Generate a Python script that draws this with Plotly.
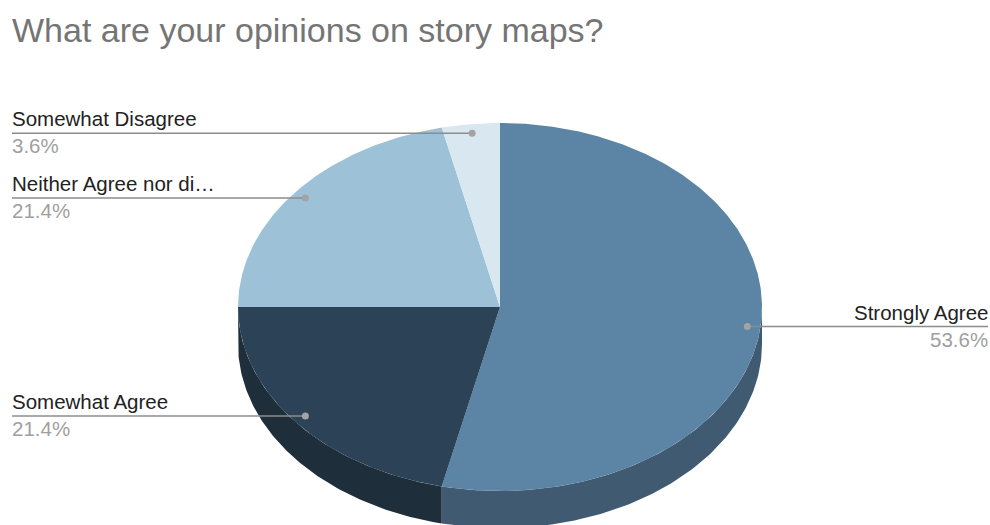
import numpy as np
import plotly.graph_objects as go

# Survey responses: "What are your opinions on story maps?"
labels = ["Strongly Agree", "Somewhat Agree", "Neither Agree nor disagree", "Somewhat Disagree"]
short_labels = ["Strongly Agree", "Somewhat Agree", "Neither Agree nor di\u2026", "Somewhat Disagree"]
counts = [15, 6, 6, 1]

top_colors = ["#5b84a5", "#2c4257", "#9dc2d8", "#d9e8f0"]
side_colors = ["#405a72", "#1f2e3b", "#6e8898", "#98a2a8"]

W, H = 990, 525
CX, CY, RX, RY, DEPTH = 500, 307, 262, 184, 37
FONT = "Arial, Liberation Sans, Helvetica, sans-serif"


def ellipse(theta_deg, r=1.0, dy=0.0):
    t = np.radians(theta_deg)
    return CX + r * RX * np.sin(t), CY - r * RY * np.cos(t) + dy


total = float(sum(counts))
shares = [c / total for c in counts]
ends = np.cumsum([s * 360 for s in shares])
starts = np.concatenate([[0.0], ends[:-1]])

fig = go.Figure()

# side walls of the tilted pie (only the front half, 90..270 degrees, is visible)
for a0, a1, col in zip(starts, ends, side_colors):
    s0, s1 = max(a0, 90.0), min(a1, 270.0)
    if s1 <= s0:
        continue
    th = np.linspace(s0, s1, 120)
    tx, ty = ellipse(th)
    bx, by = ellipse(th[::-1], dy=DEPTH)
    fig.add_trace(go.Scatter(
        x=np.concatenate([tx, bx]), y=np.concatenate([ty, by]),
        fill="toself", fillcolor=col, mode="lines", line=dict(width=0),
        hoverinfo="skip", showlegend=False))

# top faces
for a0, a1, col in zip(starts, ends, top_colors):
    th = np.linspace(a0, a1, max(int((a1 - a0) * 2), 8))
    ax, ay = ellipse(th)
    fig.add_trace(go.Scatter(
        x=np.concatenate([[CX], ax, [CX]]), y=np.concatenate([[CY], ay, [CY]]),
        fill="toself", fillcolor=col, mode="lines", line=dict(width=0),
        hoverinfo="skip", showlegend=False))

# leader lines, anchor dots and labels
for a0, a1, name, share in zip(starts, ends, short_labels, shares):
    mid = (a0 + a1) / 2
    dx, dy = ellipse(mid, r=0.95)
    left = dx < CX
    x_end = 12 if left else 988
    fig.add_trace(go.Scatter(
        x=[x_end, dx], y=[dy, dy], mode="lines",
        line=dict(color="#8c8c8c", width=1.5),
        hoverinfo="skip", showlegend=False))
    fig.add_trace(go.Scatter(
        x=[dx], y=[dy], mode="markers",
        marker=dict(color="#a3a3a3", size=7),
        hoverinfo="skip", showlegend=False))
    anchor = "left" if left else "right"
    tx = x_end - 2 if left else x_end + 2
    fig.add_annotation(x=tx, y=dy, xref="x", yref="y", text=name,
                       showarrow=False, xanchor=anchor, yanchor="bottom", yshift=1,
                       font=dict(family=FONT, size=20.5, color="#222222"))
    fig.add_annotation(x=tx, y=dy, xref="x", yref="y", text=f"{share * 100:.1f}%",
                       showarrow=False, xanchor=anchor, yanchor="top", yshift=1,
                       font=dict(family=FONT, size=20.5, color="#a0a0a0"))

fig.add_annotation(x=10, y=30, xref="x", yref="y", text="What are your opinions on story maps?",
                   showarrow=False, xanchor="left", yanchor="middle",
                   font=dict(family=FONT, size=34, color="#757575"))

fig.update_layout(
    width=W, height=H, margin=dict(l=0, r=0, t=0, b=0),
    paper_bgcolor="white", plot_bgcolor="white",
    xaxis=dict(range=[0, W], visible=False, fixedrange=True),
    yaxis=dict(range=[H, 0], visible=False, fixedrange=True),
    showlegend=False,
)

fig.write_html("out.html")
